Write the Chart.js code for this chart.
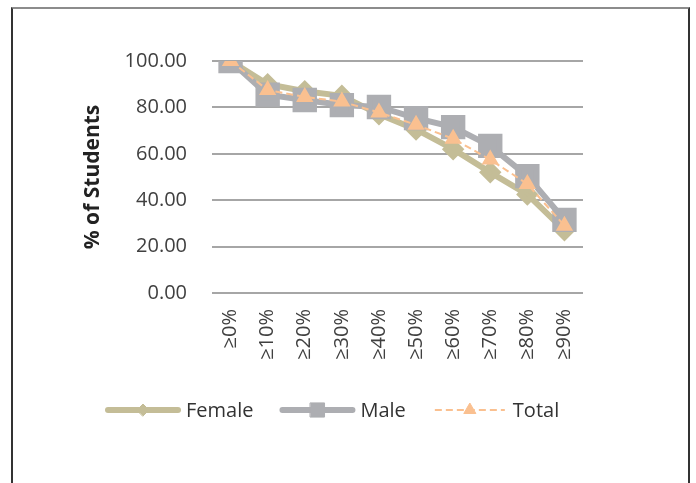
<!DOCTYPE html>
<html>
<head>
<meta charset="utf-8">
<script src="https://cdn.jsdelivr.net/npm/chart.js@4/dist/chart.umd.min.js"></script>
<style>
  body { margin: 0; background: #fff; }
  #wrap { position: relative; width: 696px; height: 483px; }
  #frame {
    position: absolute; left: 11px; top: 7px; width: 675px; height: 480px;
    border-top: 2px solid #8c8c8c; border-left: 2px solid #333; border-right: 2px solid #333;
    pointer-events: none;
  }
  canvas { position: absolute; left: 0; top: 0; }
</style>
</head>
<body>
<div id="wrap">
  <canvas id="chart" width="696" height="483"></canvas>
  <div id="frame"></div>
</div>
<script>
// data
const labels = ["≥0%", "≥10%", "≥20%", "≥30%", "≥40%", "≥50%", "≥60%", "≥70%", "≥80%", "≥90%"];
const female = [100, 90, 87, 85, 77, 70.5, 62, 52, 42.5, 27];
const male = [100, 85.5, 83.2, 81, 80.2, 75.4, 71.5, 63.4, 50.4, 31.5];
const total = [100, 87.5, 84.5, 82.5, 77.8, 72.5, 66.5, 57.5, 47, 29];
const yTicks = [0, 20, 40, 60, 80, 100];

const FONT = "'Open Sans', 'DejaVu Sans', sans-serif";

// legend drawn below the plot: line + marker + text
const lineLegend = {
  id: "lineLegend",
  afterDraw(chart) {
    const ctx = chart.ctx;
    const y = 410;
    let x = 108;
    chart.data.datasets.forEach((ds) => {
      ctx.save();
      ctx.strokeStyle = ds.borderColor;
      ctx.lineWidth = ds.borderWidth;
      ctx.lineCap = ds.borderDash ? "butt" : "round";
      ctx.setLineDash(ds.borderDash || []);
      ctx.beginPath();
      ctx.moveTo(x, y);
      ctx.lineTo(x + 70, y);
      ctx.stroke();
      ctx.setLineDash([]);
      ctx.fillStyle = ds.pointBackgroundColor;
      ctx.strokeStyle = ds.pointBackgroundColor;
      ctx.lineWidth = 1;
      Chart.helpers.drawPoint(ctx, {
        pointStyle: ds.pointStyle,
        radius: ds.legendRadius,
        borderWidth: 1,
        rotation: 0,
      }, x + 35, y);
      ctx.fillStyle = "#333";
      ctx.font = "20px " + FONT;
      ctx.textBaseline = "middle";
      ctx.fillText(ds.label, x + 78, y + 1);
      x += 78 + ctx.measureText(ds.label).width + 29;
      ctx.restore();
    });
  },
};

new Chart(document.getElementById("chart"), {
  type: "line",
  data: {
    labels: labels,
    datasets: [
      {
        label: "Female",
        data: female,
        borderColor: "#C4BD97",
        backgroundColor: "#C4BD97",
        pointBackgroundColor: "#C4BD97",
        pointBorderColor: "#C4BD97",
        borderWidth: 6,
        pointStyle: "rectRot",
        pointRadius: 7,
        legendRadius: 6,
        order: 3,
      },
      {
        label: "Male",
        data: male,
        borderColor: "#ADAEB2",
        backgroundColor: "#ADAEB2",
        pointBackgroundColor: "#ADAEB2",
        pointBorderColor: "#ADAEB2",
        borderWidth: 6,
        pointStyle: "rect",
        pointRadius: 13,
        legendRadius: 10,
        order: 2,
      },
      {
        label: "Total",
        data: total,
        borderColor: "#FAC090",
        backgroundColor: "#FAC090",
        pointBackgroundColor: "#FAC090",
        pointBorderColor: "#FAC090",
        borderWidth: 2,
        borderDash: [7, 4],
        pointStyle: "triangle",
        pointRadius: 8,
        legendRadius: 7,
        order: 1,
      },
    ],
  },
  options: {
    responsive: false,
    animation: false,
    layout: { padding: { left: 80, right: 113, top: 61, bottom: 0 } },
    plugins: {
      legend: { display: false },
      tooltip: { enabled: false },
    },
    elements: { line: { tension: 0 }, point: { borderWidth: 1 } },
    scales: {
      x: {
        offset: true,
        grid: { display: false, drawTicks: false },
        border: { display: false },
        ticks: {
          color: "#404040",
          font: { family: FONT, size: 20 },
          minRotation: 90,
          maxRotation: 90,
          padding: 16,
          autoSkip: false,
        },
        afterFit(scale) { scale.height = 190; },
      },
      y: {
        min: 0,
        max: 100,
        afterBuildTicks(scale) { scale.ticks = yTicks.map((v) => ({ value: v })); },
        grid: { color: "#A6A6A6", lineWidth: 2, drawTicks: false },
        border: { display: false },
        ticks: {
          color: "#404040",
          font: { family: FONT, size: 20 },
          padding: 25,
          callback: (v) => Number(v).toFixed(2),
        },
        title: {
          display: true,
          text: "% of Students",
          color: "#222",
          font: { family: FONT, size: 21, weight: "bold" },
          padding: { top: 0, bottom: 0 },
        },
        afterFit(scale) { scale.width = 132; },
      },
    },
  },
  plugins: [lineLegend],
});
</script>
</body>
</html>
